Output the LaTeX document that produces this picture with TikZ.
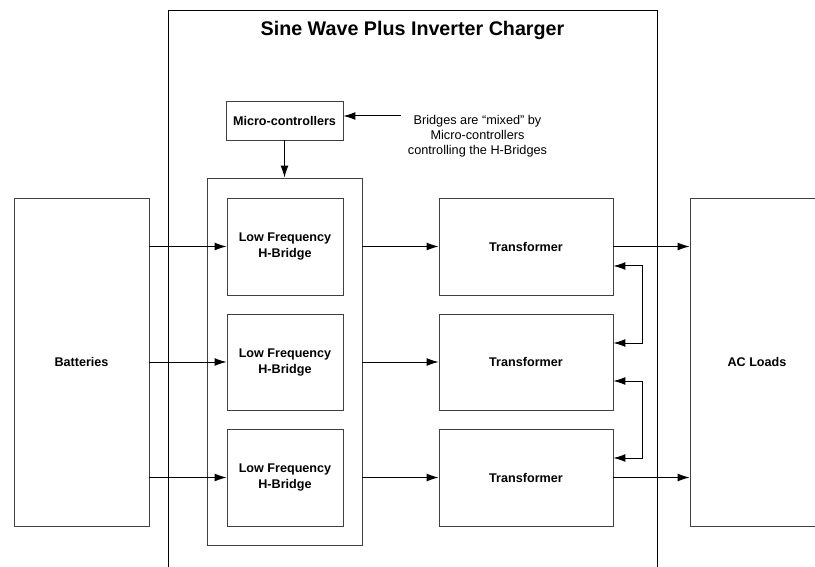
\documentclass[tikz,border=0pt]{standalone}
\usepackage{fontspec}
\setmainfont{Liberation Sans}
\usetikzlibrary{arrows.meta,calc}
\tikzset{
  box/.style={draw=black!75, line width=0.9pt, inner sep=0pt, align=center, font=\fontsize{12.6}{16}\selectfont\bfseries},
  conn/.style={draw=black, line width=1pt, -{Latex[length=12pt,width=8pt]}},
  biconn/.style={draw=black, line width=1pt, {Latex[length=12pt,width=8pt]}-{Latex[length=12pt,width=8pt]}},
}
\begin{document}
\begin{tikzpicture}[x=1pt,y=-1pt]
\clip (0,0) rectangle (815,567);
\fill[white] (0,0) rectangle (815,567);
% outer frame
\node[box, draw=black, minimum width=489pt, minimum height=600pt] (frame) at (412.5,310) {};
\node[font=\fontsize{19.7}{22}\selectfont\bfseries] (title) at (412.5,30) {Sine Wave Plus Inverter Charger};
% micro-controllers
\node[box, minimum width=117pt, minimum height=39pt] (micro) at (284.5,120.5) {Micro-controllers};
\node[align=center, font=\fontsize{12.7}{15}\selectfont, inner sep=0pt] (note) at (477.5,136.5) {Bridges are “mixed” by\\Micro-controllers\\controlling the H-Bridges};
\coordinate (noteend) at (401,116);
% group box
\node[box, minimum width=154.5pt, minimum height=367pt] (group) at (284.75,361.5) {};
% bridges
\node[box, minimum width=116pt, minimum height=97pt] (B1) at (285,246.5) {Low Frequency\\H-Bridge};
\node[box, minimum width=116pt, minimum height=96pt] (B2) at (285,362) {Low Frequency\\H-Bridge};
\node[box, minimum width=116pt, minimum height=97pt] (B3) at (285,477.5) {Low Frequency\\H-Bridge};
% transformers
\node[box, minimum width=174pt, minimum height=97pt] (T1) at (526,246.5) {Transformer};
\node[box, minimum width=174pt, minimum height=96pt] (T2) at (526,362) {Transformer};
\node[box, minimum width=174pt, minimum height=97pt] (T3) at (526,477.5) {Transformer};
% batteries and loads
\node[box, minimum width=135pt, minimum height=328pt] (batt) at (81.5,362) {Batteries};
\node[box, minimum width=134pt, minimum height=328pt] (ac) at (757,362) {AC Loads};
% connectors
\draw[conn] (noteend) -- (noteend -| micro.east);
\draw[conn] (micro.south) -- (micro.south |- group.north);
\foreach \i in {1,2,3} {
  \draw[conn] (batt.east |- B\i.west) -- (B\i.west);
  \draw[conn] (group.east |- T\i.west) -- (T\i.west);
}
\draw[conn] (T1.east) -- (ac.west |- T1.east);
\draw[conn] (T3.east) -- (ac.west |- T3.east);
\coordinate (c1) at (642,266);
\coordinate (c2) at (642,343);
\coordinate (c3) at (642,381);
\coordinate (c4) at (642,458);
\draw[biconn] (T1.east |- c1) -- (c1) -- (c2) -- (T2.east |- c2);
\draw[biconn] (T2.east |- c3) -- (c3) -- (c4) -- (T3.east |- c4);
\end{tikzpicture}
\end{document}
